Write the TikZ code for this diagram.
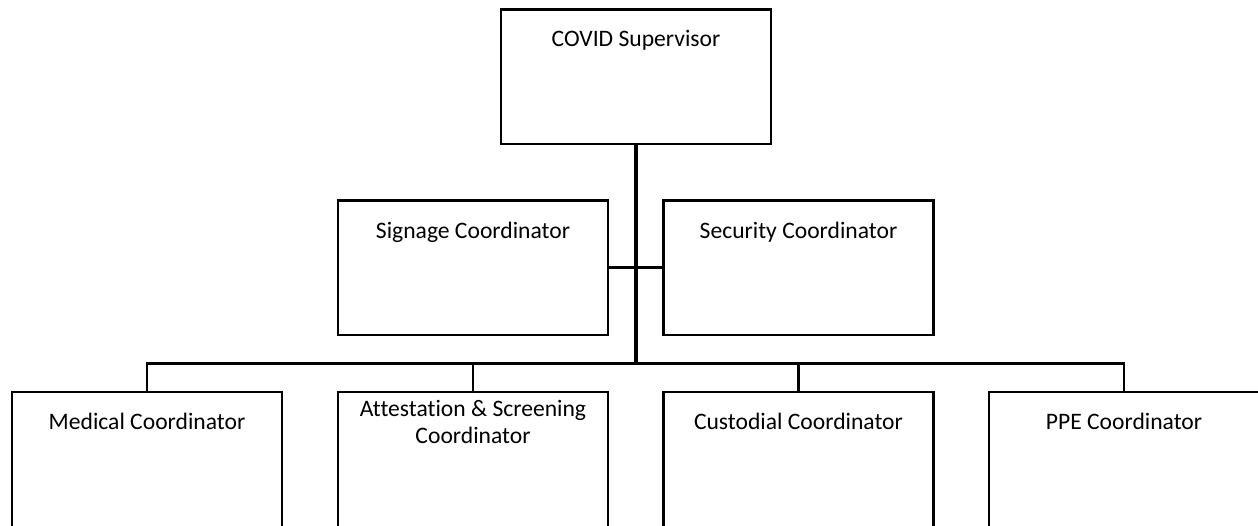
\documentclass[tikz,border=0pt]{standalone}
\usepackage{fontspec}
\setmainfont[Ligatures=NoCommon]{Carlito}
\begin{document}
\begin{tikzpicture}[x=1pt,y=-1pt,
  box/.style={draw=black,line width=2.7pt,fill=white,minimum width=270pt,inner sep=0pt,outer sep=0pt},
  topbox/.style={box,minimum height=134.5pt},
  midbox/.style={box,minimum height=134.5pt},
  lowbox/.style={box,minimum height=220pt},
  lbl/.style={anchor=base,inner sep=0pt,align=center,font=\fontsize{23.6}{26.6}\selectfont},
  link/.style={line width=2.6pt},
  trunk/.style={line width=3.8pt}]
\useasboundingbox (0,0) rectangle (1258,525);
\fill[white] (0,0) rectangle (1258,525);
\clip (0,0) rectangle (1258,525);

% supervisor
\node[topbox] (sup) at (636,76.75) {};
\node[lbl] (tsup) at ([yshift=-37.3pt]sup.north) {COVID Supervisor};

% side coordinators
\node[midbox] (sig) at (473,267.75) {};
\node[midbox] (sec) at (798.5,267.75) {};
\node[lbl] (tsig) at ([yshift=-38pt]sig.north) {Signage Coordinator};
\node[lbl] (tsec) at ([yshift=-38pt]sec.north) {Security Coordinator};

% lower coordinators (their lower edges run off the page)
\node[lowbox,anchor=north] (med) at (147,392) {};
\node[lowbox,anchor=north] (att) at (473,392) {};
\node[lowbox,anchor=north] (cus) at (798.5,392) {};
\node[lowbox,anchor=north] (ppe) at (1124,392) {};
\node[lbl] (tmed) at ([yshift=-37.3pt]med.north) {Medical Coordinator};
% base anchor of a two-line label sits on its last line
\node[lbl] (tatt) at ([yshift=-51.3pt]att.north) {Attestation \& Screening\\Coordinator};
\node[lbl] (tcus) at ([yshift=-37.3pt]cus.north) {Custodial Coordinator};
\node[lbl] (tppe) at ([yshift=-37.3pt]ppe.north) {PPE Coordinator};

% connectors
\coordinate (bus) at (636,363.3);
\draw[link] (sig.east) -- (sec.west);
\draw[link,line join=miter] (med.north) |- (bus) -| (ppe.north);
\draw[link] (att.north) -- (att.north |- bus);
\draw[link] (cus.north) -- (cus.north |- bus);
\draw[trunk] (sup.south) -- ([yshift=-1.3pt]bus);
\end{tikzpicture}
\end{document}
